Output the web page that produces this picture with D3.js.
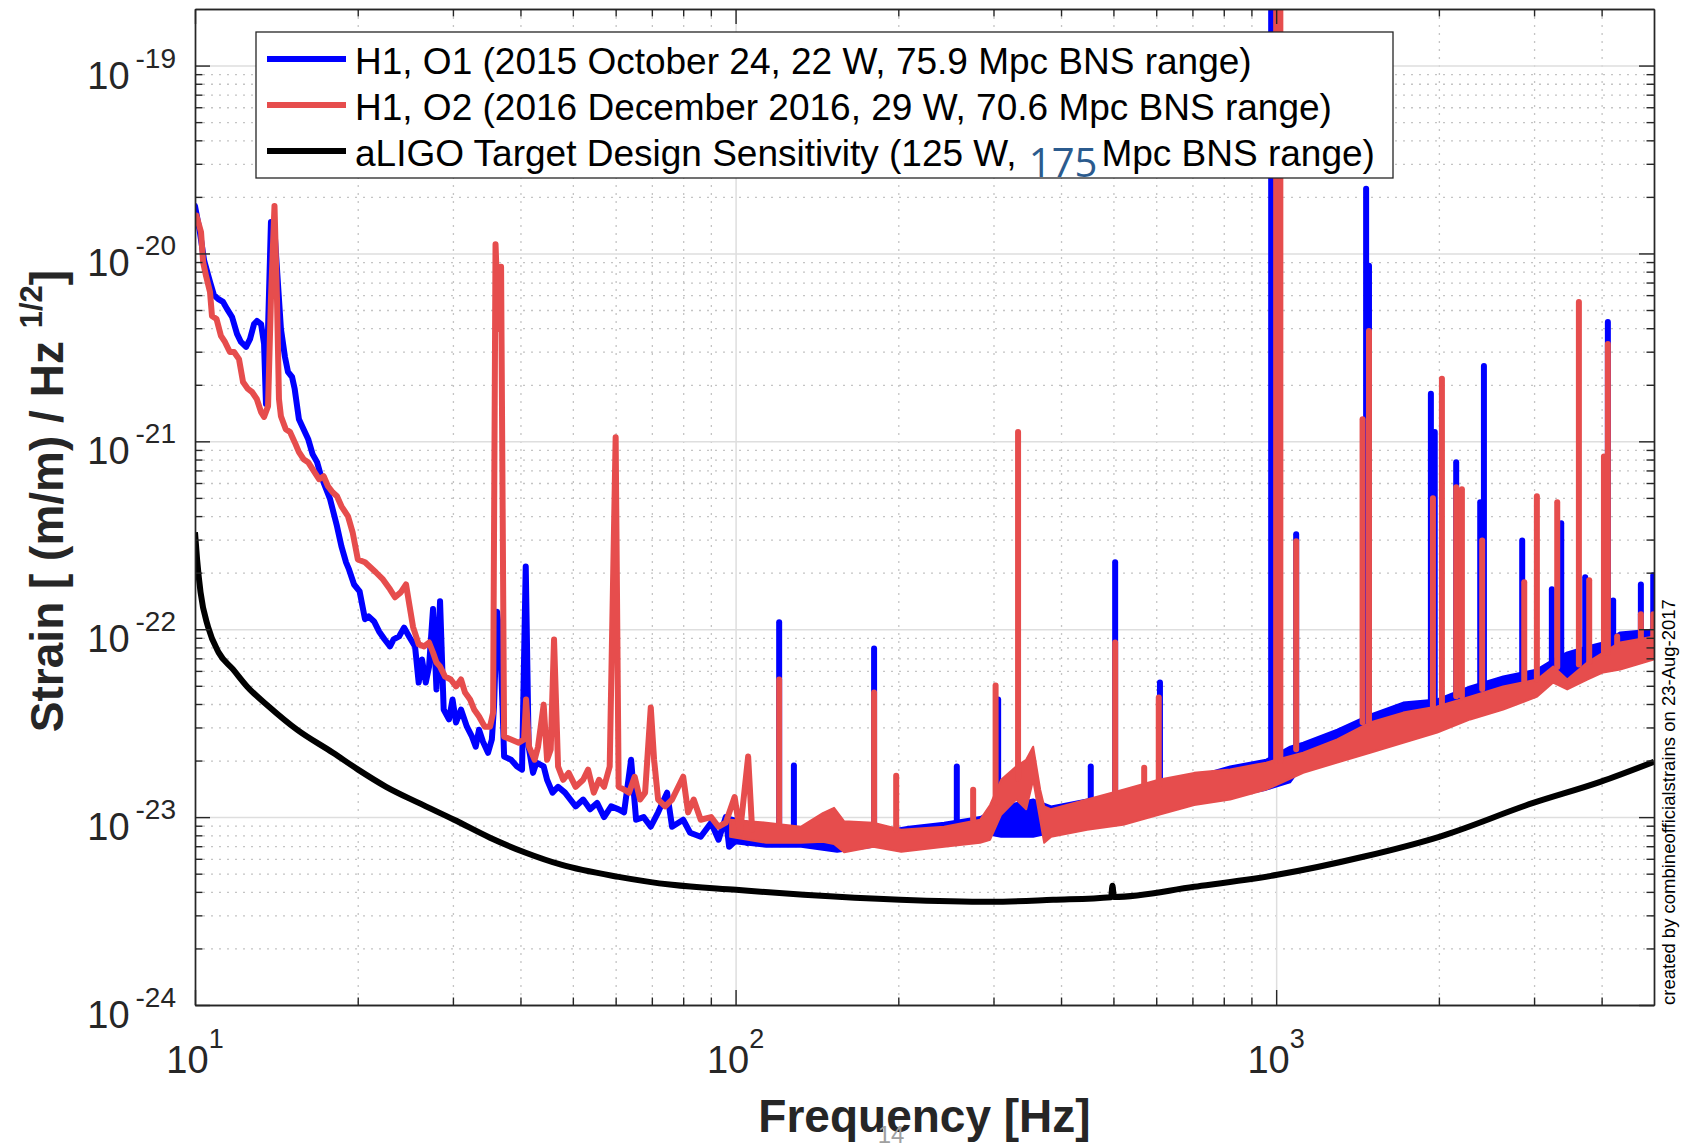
<!doctype html>
<html lang="en">
  <head>
    <meta charset="utf-8">
    <title>H1 strain sensitivity, O1 vs O2</title>
    <style>
      * { margin: 0; padding: 0; }
      body { background: #fff; overflow: hidden; }
      svg { display: block; }
      text { font-family: "Liberation Sans", Arial, sans-serif; white-space: pre; }
      .grid-major line { stroke: #dedede; stroke-width: 1.5; }
      .grid-minor line { stroke: #c4c4c4; stroke-width: 1.3; stroke-dasharray: 2 6; }
      .ticks line, .ticks path { stroke: #262626; stroke-width: 1.4; }
    </style>
    <script src="https://cdn.jsdelivr.net/npm/d3@7"></script>
  </head>

  <body>
    <svg id="chart" width="1683" height="1144"></svg>

    <script>
      // aLIGO design curve [Hz, strain / sqrt(Hz)]
      const designCurve = [
        [10, 3.28e-22], [10.09, 2.35e-22], [10.24, 1.57e-22], [10.57, 1.03e-22], [11.06, 7.52e-23],
        [11.76, 6.11e-23], [12.48, 4.96e-23], [13.69, 3.88e-23], [15.44, 2.92e-23], [18.0, 2.2e-23],
        [20.03, 1.79e-23], [22.57, 1.45e-23], [25.93, 1.19e-23], [30.15, 9.68e-24], [35.14, 7.77e-24],
        [40.91, 6.46e-24], [47.56, 5.58e-24], [60.77, 4.81e-24], [76.3, 4.36e-24], [100.2, 4.1e-24],
        [133.7, 3.86e-24], [201.5, 3.63e-24], [297, 3.54e-24], [386.7, 3.63e-24], [495, 3.75e-24],
        [498, 4.31e-24], [501, 3.76e-24], [705.3, 4.26e-24], [1004, 4.93e-24], [1449, 6.15e-24],
        [2003, 7.86e-24], [2989, 1.19e-23], [3976, 1.54e-23], [5000, 1.97e-23]
      ];

      // H1 O1 (blue), low frequency part traced point by point
      const o1Trace = [
        [10.0, 1.79e-20], [10.2, 1.32e-20], [10.4, 9.13e-21], [10.66, 7.06e-21], [10.84, 6.01e-21],
        [11.03, 5.73e-21], [11.27, 5.52e-21], [11.46, 5.07e-21], [11.71, 4.59e-21], [11.96, 3.73e-21],
        [12.16, 3.38e-21], [12.43, 3.18e-21], [12.64, 3.5e-21], [12.86, 4.21e-21], [13.02, 4.37e-21],
        [13.25, 4.21e-21], [13.42, 3.3e-21], [13.53, 1.58e-21], [13.82, 1.47e-20], [14.06, 1.2e-20],
        [14.42, 3.96e-21], [14.67, 2.81e-21], [14.86, 2.34e-21], [15.12, 2.2e-21], [15.29, 1.9e-21],
        [15.57, 1.31e-21], [15.88, 1.16e-21], [16.19, 1.03e-21], [16.5, 8.55e-22], [16.82, 7.75e-22],
        [17.11, 6.52e-22], [17.78, 4.92e-22], [18.31, 3.53e-22], [18.66, 2.76e-22], [19.03, 2.27e-22],
        [19.27, 2.08e-22], [19.69, 1.73e-22], [20.16, 1.59e-22], [20.63, 1.13e-22], [20.95, 1.17e-22],
        [21.44, 1.1e-22], [21.9, 9.73e-23], [22.43, 8.82e-23], [22.95, 8.1e-23], [23.3, 8.82e-23],
        [23.85, 9.15e-23], [24.36, 1.02e-22], [24.95, 9.04e-23], [25.53, 8.1e-23], [25.93, 5.2e-23],
        [26.3, 6.9e-23], [26.72, 5.2e-23], [27.1, 6.33e-23], [27.56, 1.28e-22], [27.97, 4.78e-23],
        [28.4, 1.41e-22], [28.84, 3.74e-23], [29.5, 3.31e-23], [29.95, 4.23e-23], [30.4, 3.19e-23],
        [31.05, 3.74e-23], [31.84, 3.03e-23], [32.54, 2.68e-23], [33.06, 2.37e-23], [33.53, 2.92e-23],
        [34.1, 2.52e-23], [34.84, 2.2e-23], [35.41, 2.59e-23], [35.74, 3.88e-23], [36.21, 1.24e-22],
        [36.68, 8.82e-23], [37.07, 3.74e-23], [37.31, 2.1e-23], [38.43, 2.02e-23], [39.42, 1.86e-23],
        [40.27, 1.79e-23], [40.91, 2.16e-22], [41.42, 2.37e-23], [42.2, 1.72e-23], [42.82, 1.95e-23],
        [44.16, 1.86e-23], [44.8, 1.58e-23], [45.85, 1.35e-23], [46.95, 1.45e-23], [48.36, 1.35e-23],
        [50.6, 1.14e-23], [52.24, 1.24e-23], [53.81, 1.1e-23], [55.44, 1.19e-23], [57.12, 1.0e-23],
        [58.86, 1.14e-23], [60.77, 1.1e-23], [62.19, 1.06e-23], [64.08, 2.02e-23], [65.46, 9.68e-24],
        [67.6, 1.0e-23], [69.68, 8.89e-24], [71.9, 1.06e-23], [74.7, 1.35e-23], [76.3, 8.89e-24],
        [80.0, 9.68e-24], [82.4, 8.26e-24], [86.2, 7.86e-24], [90.1, 9.34e-24], [93.0, 7.58e-24],
        [95.9, 1.0e-23], [97.3, 6.95e-24], [101.9, 7.86e-24], [105, 7.3e-24]
      ];

      // H1 O2 (red), low frequency part
      const o2Trace = [
        [10.06, 1.59e-20], [10.26, 1.3e-20], [10.35, 9.02e-21], [10.48, 7.6e-21], [10.66, 6.24e-21],
        [10.75, 4.65e-21], [10.96, 4.48e-21], [11.17, 3.64e-21], [11.36, 3.38e-21], [11.6, 2.99e-21],
        [11.81, 2.99e-21], [12.06, 2.74e-21], [12.27, 2.07e-21], [12.53, 1.9e-21], [12.75, 1.83e-21],
        [13.01, 1.68e-21], [13.25, 1.43e-21], [13.42, 1.35e-21], [13.65, 1.54e-21], [13.82, 5.73e-21],
        [14.03, 1.79e-20], [14.18, 5.73e-21], [14.3, 1.68e-21], [14.42, 1.36e-21], [14.72, 1.16e-21],
        [14.99, 1.12e-21], [15.29, 9.9e-22], [15.57, 8.76e-22], [15.88, 8.04e-22], [16.19, 7.75e-22],
        [16.5, 7.11e-22], [16.96, 6.29e-22], [17.3, 6.52e-22], [17.62, 5.77e-22], [17.97, 5.36e-22],
        [18.31, 5.1e-22], [18.66, 4.51e-22], [19.19, 3.99e-22], [19.57, 3.28e-22], [20.01, 2.35e-22],
        [20.63, 2.27e-22], [21.6, 2.01e-22], [22.27, 1.84e-22], [22.95, 1.63e-22], [23.44, 1.48e-22],
        [24.02, 1.57e-22], [24.57, 1.73e-22], [24.95, 1.32e-22], [25.31, 1.03e-22], [25.93, 8.3e-23],
        [26.53, 8.1e-23], [27.1, 8.5e-23], [27.56, 7.52e-23], [27.97, 6.65e-23], [28.4, 6.33e-23],
        [29.01, 5.6e-23], [29.73, 5.4e-23], [30.4, 4.96e-23], [31.05, 5.4e-23], [31.59, 4.6e-23],
        [32.27, 4.23e-23], [32.83, 3.74e-23], [33.53, 3.43e-23], [34.34, 3.03e-23], [35.14, 3.03e-23],
        [35.6, 3.6e-23], [35.97, 1.12e-20], [36.44, 3.96e-21], [36.83, 8.49e-21], [37.31, 2.68e-23],
        [38.43, 2.59e-23], [39.7, 2.49e-23], [40.62, 2.59e-23], [40.97, 4.23e-23], [41.49, 2.37e-23],
        [42.49, 2.02e-23], [43.11, 2.37e-23], [44.16, 3.97e-23], [44.8, 2.02e-23], [45.5, 2.29e-23],
        [46.15, 8.82e-23], [46.95, 1.86e-23], [47.97, 1.58e-23], [49.12, 1.72e-23], [50.6, 1.45e-23],
        [52.24, 1.58e-23], [53.36, 1.79e-23], [54.66, 1.35e-23], [55.9, 1.58e-23], [57.12, 1.45e-23],
        [58.5, 1.86e-23], [60.0, 1.05e-21], [60.77, 1.45e-23], [62.19, 1.4e-23], [63.53, 1.35e-23],
        [65.06, 1.64e-23], [66.58, 1.24e-23], [68.02, 1.35e-23], [69.68, 3.83e-23], [70.67, 2.02e-23],
        [71.9, 1.24e-23], [74.07, 1.14e-23], [76.3, 1.24e-23], [80.0, 1.64e-23], [81.68, 1.06e-23],
        [83.66, 1.24e-23], [86.2, 9.68e-24], [90.1, 1.0e-23], [93.0, 8.89e-24], [95.9, 9.34e-24],
        [99.6, 1.28e-23], [101.9, 8.26e-24], [105.5, 2.1e-23], [107.3, 8.57e-24]
      ];

      // above ~100 Hz the spectra are a noisy band: [Hz, lower edge, upper edge]
      const o1Band = [
        [97.7, 7.3e-24, 1.0e-23], [113.9, 6.95e-24, 8.89e-24], [132.2, 6.95e-24, 8.57e-24],
        [154.1, 6.54e-24, 8.26e-24], [179.7, 6.95e-24, 8.26e-24], [209.1, 7.58e-24, 8.89e-24],
        [243.1, 7.58e-24, 9.34e-24], [283.4, 8.26e-24, 1.0e-23], [309.9, 7.86e-24, 1.14e-23],
        [355.2, 7.86e-24, 1.24e-23], [383.5, 8.26e-24, 1.14e-23], [447, 8.89e-24, 1.24e-23],
        [521.2, 9.68e-24, 1.35e-23], [606.5, 1.06e-23, 1.53e-23], [705.3, 1.19e-23, 1.64e-23],
        [821.9, 1.28e-23, 1.86e-23], [958.3, 1.4e-23, 2.02e-23], [1061, 1.53e-23, 2.37e-23],
        [1122, 1.9e-23, 2.49e-23], [1297, 2.15e-23, 2.92e-23], [1492, 2.43e-23, 3.51e-23],
        [1718, 2.75e-23, 4.07e-23], [1986, 3.03e-23, 4.23e-23], [2285, 3.51e-23, 4.96e-23],
        [2630, 3.97e-23, 5.6e-23], [3040, 4.78e-23, 6.11e-23], [3254, 5.4e-23, 6.9e-23],
        [3455, 5.4e-23, 7.52e-23], [3762, 5.96e-23, 8.1e-23], [4027, 6.49e-23, 8.5e-23],
        [4329, 6.7e-23, 9.61e-23], [5000, 7.6e-23, 9.97e-23]
      ];

      const o2Band = [
        [97.7, 7.86e-24, 9.68e-24], [113.9, 7.3e-24, 9.34e-24], [132.2, 7.3e-24, 8.89e-24],
        [145, 7.4e-24, 1.05e-23], [152.1, 7.2e-24, 1.12e-23], [158.8, 6.5e-24, 9.5e-24],
        [179.7, 6.95e-24, 9.34e-24], [202.5, 6.54e-24, 8.57e-24], [243.1, 6.95e-24, 8.89e-24],
        [283.4, 7.3e-24, 9.68e-24], [295.7, 7.58e-24, 1.16e-23], [309.9, 1.03e-23, 1.58e-23],
        [330.4, 1.24e-23, 1.86e-23], [344.8, 1.1e-23, 2.02e-23], [355.2, 1.58e-23, 2.37e-23],
        [366, 9.68e-24, 1.4e-23], [372.3, 7.3e-24, 1.14e-23], [383.5, 7.86e-24, 1.1e-23],
        [447, 8.57e-24, 1.24e-23], [521.2, 9.11e-24, 1.4e-23], [606.5, 1.03e-23, 1.58e-23],
        [705.3, 1.16e-23, 1.72e-23], [821.9, 1.24e-23, 1.79e-23], [958.3, 1.4e-23, 1.95e-23],
        [1122, 1.72e-23, 2.2e-23], [1297, 1.95e-23, 2.59e-23], [1492, 2.2e-23, 3.19e-23],
        [1718, 2.49e-23, 3.6e-23], [1986, 2.82e-23, 3.88e-23], [2285, 3.31e-23, 4.38e-23],
        [2630, 3.74e-23, 4.96e-23], [3040, 4.38e-23, 5.4e-23], [3254, 5.2e-23, 6.33e-23],
        [3455, 4.78e-23, 5.4e-23], [3762, 5.4e-23, 6.65e-23], [4027, 5.89e-23, 7.52e-23],
        [4329, 6.11e-23, 8.5e-23], [5000, 6.9e-23, 9.15e-23]
      ];

      // narrow spectral lines: [Hz, floor, peak]
      const o1Lines = [
        [120.4, 8.9e-24, 1.09e-22], [128.2, 8.7e-24, 1.88e-23], [180.4, 8.3e-24, 7.9e-23],
        [256.6, 9.3e-24, 1.86e-23], [306, 1.0e-23, 4.23e-23], [454, 1.2e-23, 1.86e-23],
        [503.7, 1.3e-23, 2.27e-22], [609.6, 1.5e-23, 5.2e-23], [979, 2.0e-23, 1.96e-19],
        [1089, 2.4e-23, 3.2e-22], [1467, 3.3e-23, 2.21e-20], [1485, 3.3e-23, 8.6e-21],
        [1933, 4.2e-23, 1.79e-21], [1965, 4.2e-23, 1.12e-21], [2153, 4.5e-23, 7.75e-22],
        [2385, 5.0e-23, 4.74e-22], [2423, 5.0e-23, 2.52e-21], [2852, 5.8e-23, 2.97e-22],
        [3236, 6.8e-23, 1.63e-22], [3368, 7.2e-23, 3.66e-22], [3730, 8.0e-23, 1.89e-22],
        [4108, 8.4e-23, 4.32e-21], [4202, 8.6e-23, 1.42e-22], [4728, 9.6e-23, 1.73e-22],
        [4984, 9.9e-23, 1.94e-22]
      ];

      const o2Lines = [
        [120.4, 9.3e-24, 5.4e-23], [180.4, 9.3e-24, 4.6e-23], [198.2, 8.6e-24, 1.66e-23],
        [275.1, 9.7e-24, 1.4e-23], [302.7, 1.2e-23, 5.02e-23], [333.1, 1.6e-23, 1.12e-21],
        [503.7, 1.3e-23, 8.5e-23], [570, 1.5e-23, 1.83e-23], [606.5, 1.5e-23, 4.33e-23],
        [1000, 2.0e-23, 2.0e-19], [1018, 2.0e-23, 2.0e-19], [1089, 2.3e-23, 2.94e-22],
        [1445, 3.2e-23, 1.31e-21], [1485, 3.2e-23, 3.87e-21], [1950, 3.9e-23, 4.98e-22],
        [2026, 3.9e-23, 2.15e-21], [2153, 4.4e-23, 5.7e-22], [2206, 4.4e-23, 5.56e-22],
        [2405, 4.8e-23, 2.97e-22], [2877, 5.3e-23, 1.78e-22], [3036, 5.4e-23, 5.1e-22],
        [3311, 6.3e-23, 4.74e-22], [3631, 6.5e-23, 5.52e-21], [3794, 6.7e-23, 1.82e-22],
        [4040, 7.5e-23, 8.3e-22], [4108, 7.5e-23, 3.3e-21], [4274, 8.2e-23, 9.15e-23],
        [4728, 8.8e-23, 1.2e-22], [4984, 9.1e-23, 1.2e-22]
      ];

      const legendLabels = [
        "H1, O1 (2015 October 24, 22 W, 75.9 Mpc BNS range)",
        "H1, O2 (2016 December 2016, 29 W, 70.6 Mpc BNS range)",
        "aLIGO Target Design Sensitivity (125 W, "
      ];
      const designRange = "175";
      const legendTail = "Mpc BNS range)";
      const xDecades = [10, 100, 1000];
      const yExponents = [-24, -23, -22, -21, -20, -19];
      const xTitle = "Frequency [Hz]";
      const yTitle = "Strain [ (m/m) / Hz ";
      const stamp = "created by combineofficialstrains on 23-Aug-2017";
      const pageNo = "14";

      const colors = { o1: "#0000ff", o2: "#e64d4d", design: "#000000", text: "#262626" };
      const traceWidth = 6;

      // ---- layout ----
      const box = { left: 195, right: 1654, top: 9, bottom: 1005 };
      const plotW = box.right - box.left;
      const plotH = box.bottom - box.top;

      const svg = d3.select("#chart");
      const x = d3.scaleLog().domain([10, 5000]).range([box.left, box.right]);
      const y = d3.scaleLog().domain([1e-24, 2e-19]).range([box.bottom, box.top]);

      const xMinor = [];
      xDecades.forEach(d => { for (let k = 2; k <= 9; k++) if (k * d < 5000) xMinor.push(k * d); });
      const yMajor = yExponents.map(e => Math.pow(10, e));
      const yMinor = [];
      yExponents.slice(0, -1).forEach(e => { for (let k = 2; k <= 9; k++) yMinor.push(k * Math.pow(10, e)); });

      // grid
      function gridLayer(cls, axis, offset) {
        svg.append("g").attr("class", cls).attr("transform", offset)
          .call(axis.tickFormat(""))
          .call(g => g.select(".domain").remove());
      }
      gridLayer("grid-minor", d3.axisBottom(x).tickValues(xMinor).tickSize(plotH), `translate(0,${box.top})`);
      gridLayer("grid-minor", d3.axisLeft(y).tickValues(yMinor).tickSize(-plotW), `translate(${box.left},0)`);
      gridLayer("grid-major", d3.axisBottom(x).tickValues(xDecades.slice(1)).tickSize(plotH), `translate(0,${box.top})`);
      gridLayer("grid-major", d3.axisLeft(y).tickValues(yMajor).tickSize(-plotW), `translate(${box.left},0)`);

      // data
      svg.append("clipPath").attr("id", "plot-clip")
        .append("rect").attr("x", box.left).attr("y", box.top).attr("width", plotW).attr("height", plotH);
      const data = svg.append("g").attr("clip-path", "url(#plot-clip)");

      const line = d3.line().x(d => x(d[0])).y(d => y(d[1]));
      const band = d3.area().x(d => x(d[0])).y0(d => y(d[1])).y1(d => y(d[2]));

      function drawSeries(trace, bandData, lines, color) {
        data.append("path").datum(bandData).attr("d", band)
          .attr("fill", color).attr("stroke", color).attr("stroke-width", 2).attr("stroke-linejoin", "round");
        data.append("path").datum(trace).attr("d", line)
          .attr("fill", "none").attr("stroke", color).attr("stroke-width", traceWidth)
          .attr("stroke-linejoin", "round").attr("stroke-linecap", "round");
        data.append("g").selectAll("line").data(lines).join("line")
          .attr("x1", d => x(d[0])).attr("x2", d => x(d[0]))
          .attr("y1", d => y(d[1])).attr("y2", d => y(d[2]))
          .attr("stroke", color).attr("stroke-width", traceWidth).attr("stroke-linecap", "round");
      }
      drawSeries(o1Trace, o1Band, o1Lines, colors.o1);
      drawSeries(o2Trace, o2Band, o2Lines, colors.o2);

      data.append("path").datum(designCurve)
        .attr("d", d3.line().x(d => x(d[0])).y(d => y(d[1])).curve(d3.curveMonotoneX))
        .attr("fill", "none").attr("stroke", colors.design).attr("stroke-width", traceWidth)
        .attr("stroke-linejoin", "round");

      // box with inward ticks on all four sides
      function tickLayer(axisFn, scale, offset, major, minor) {
        const g = svg.append("g").attr("class", "ticks").attr("transform", offset);
        g.append("g").call(axisFn(scale).tickValues(minor).tickSize(-7.5).tickSizeOuter(0).tickFormat(""));
        g.append("g").call(axisFn(scale).tickValues(major).tickSize(-15).tickSizeOuter(0).tickFormat(""));
      }
      tickLayer(d3.axisBottom, x, `translate(0,${box.bottom})`, xDecades, xMinor);
      tickLayer(d3.axisTop, x, `translate(0,${box.top})`, xDecades, xMinor);
      tickLayer(d3.axisLeft, y, `translate(${box.left},0)`, yMajor, yMinor);
      tickLayer(d3.axisRight, y, `translate(${box.right},0)`, yMajor, yMinor);

      // tick labels as 10^n
      xDecades.forEach(d => {
        const t = svg.append("text").attr("x", x(d)).attr("y", 1073)
          .attr("text-anchor", "middle").attr("fill", colors.text).attr("font-size", 38);
        t.append("tspan").text("10");
        t.append("tspan").attr("dy", -25).attr("font-size", 27).text(String(Math.round(Math.log10(d))));
      });
      yExponents.forEach(e => {
        const t = svg.append("text").attr("x", box.left - 19).attr("y", y(Math.pow(10, e)) + 23)
          .attr("text-anchor", "end").attr("fill", colors.text).attr("font-size", 38);
        t.append("tspan").text("10");
        t.append("tspan").attr("dx", 6).attr("dy", -21).attr("font-size", 28).text(String(e));
      });

      // axis titles
      svg.append("text").attr("x", (box.left + box.right) / 2).attr("y", 1132)
        .attr("text-anchor", "middle").attr("font-weight", "bold").attr("font-size", 46)
        .attr("fill", colors.text).text(xTitle);

      const yLab = svg.append("text").attr("transform", "translate(63,501) rotate(-90)")
        .attr("text-anchor", "middle").attr("font-weight", "bold").attr("font-size", 46)
        .attr("fill", colors.text);
      yLab.append("tspan").text(yTitle);
      yLab.append("tspan").attr("dy", -21).attr("font-size", 31).text("1/2");
      yLab.append("tspan").attr("dy", 21).text("]");

      // legend
      const legend = svg.append("g");
      legend.append("rect").attr("x", 256).attr("y", 32).attr("width", 1137).attr("height", 146)
        .attr("fill", "#fff").attr("stroke", colors.text).attr("stroke-width", 1.3);
      [colors.o1, colors.o2, colors.design].forEach((c, i) => {
        const cy = 59 + i * 46;
        legend.append("line").attr("x1", 267).attr("x2", 346).attr("y1", cy).attr("y2", cy)
          .attr("stroke", c).attr("stroke-width", traceWidth);
        const t = legend.append("text").attr("x", 355).attr("y", cy + 15)
          .attr("font-size", 37).attr("fill", "#000").text(legendLabels[i]);
        if (i === 2) {
          t.append("tspan").attr("dx", 2).attr("dy", 11)
            .attr("font-family", "'Open Sans', sans-serif").attr("font-size", 40)
            .attr("fill", "#2b5b8e").text(designRange);
          t.append("tspan").attr("dx", 4).attr("dy", -11).text(legendTail);
        }
      });

      // side stamp and page number
      svg.append("text").attr("transform", `translate(1675,${box.bottom}) rotate(-90)`)
        .attr("font-size", 18.5).attr("fill", "#000").text(stamp);
      svg.append("text").attr("x", 891).attr("y", 1143).attr("text-anchor", "middle")
        .attr("font-family", "'Liberation Serif', serif").attr("font-size", 24)
        .attr("fill", "#a0a0a0").text(pageNo);
    </script>
  </body>
</html>
